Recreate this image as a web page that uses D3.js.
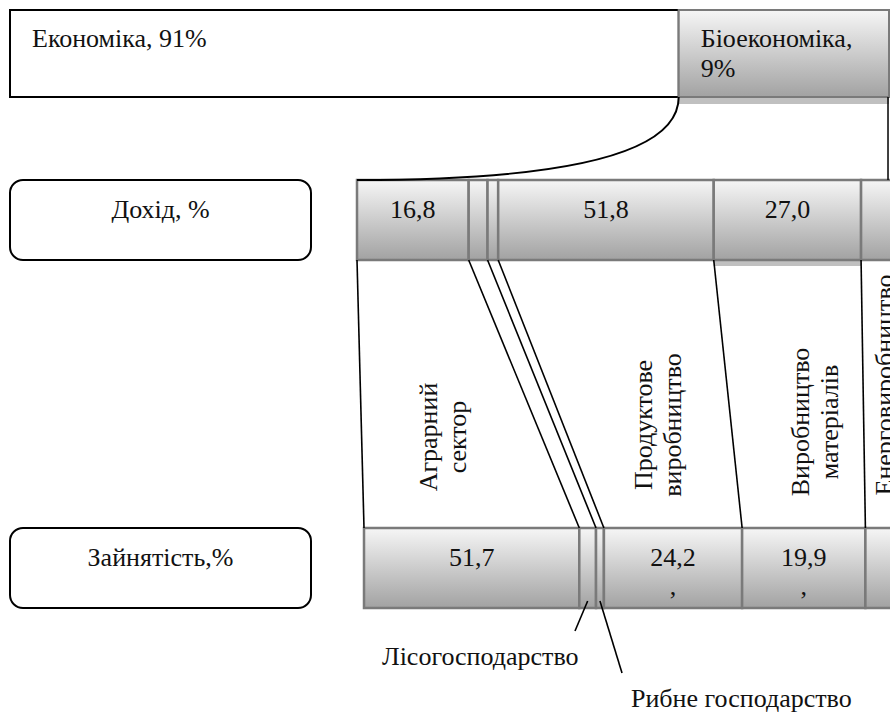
<!DOCTYPE html>
<html>
<head>
<meta charset="utf-8">
<script src="https://cdnjs.cloudflare.com/ajax/libs/d3/7.8.5/d3.min.js"></script>
<style>
body { margin: 0; background: #fff; }
svg { display: block; }
text { font-family: "Liberation Serif", "Times New Roman", serif; font-size: 26px; fill: #111; }
</style>
</head>
<body>
<svg id="canvas" width="890" height="713"></svg>
<script>
// share of the whole economy, %
var economyNames = ['Економіка', 'Біоекономіка'];
var economyShares = [91, 9];

// bioeconomy sectors, left to right
var sectors = ['Аграрний сектор', 'Лісогосподарство', 'Рибне господарство',
  'Продуктове виробництво', 'Виробництво матеріалів', 'Енерговиробництво'];
// income and employment, % (small ones are not labelled, read from widths)
var income = [16.8, 0.8, 0.3, 51.8, 27.0, 2.0];
var employment = [51.7, 0.65, 0.18, 24.2, 19.9, 2.0];
// stray second line in some employment cells
var employmentNotes = ['', '', '', ',', ',', ''];

var rowNames = ['Дохід, %', 'Зайнятість,%'];

// ---- layout ----
var svg = d3.select('#canvas');
var topBar = {x: 10, y: 10, h: 87};
var rows = [
  {name: rowNames[0], values: income, notes: null, x: 357, y: 180, h: 80},
  {name: rowNames[1], values: employment, notes: employmentNotes, x: 364, y: 528, h: 80}
];
var nameBox = {x: 10, w: 301, r: 13};
var lineGap = 29;

// hand drawn diagram: widths grow slower than the values
var shareScale = d3.scaleSqrt().domain([0, 100]).range([0, 701]);
var widthScale = d3.scalePow().exponent(0.584).domain([0, 100]).range([0, 316.5]);

var fmt = function (v) {
  return d3.format('.1f')(v).replace('.', ',');
};

var edgesOf = function (x0, values, scale) {
  var edges = [x0];
  values.forEach(function (v, i) { edges.push(edges[i] + scale(v)); });
  return edges;
};

var defs = svg.append('defs');
var grad = defs.append('linearGradient')
  .attr('id', 'shade').attr('x1', 0).attr('y1', 0).attr('x2', 0).attr('y2', 1);
grad.append('stop').attr('offset', '0%').attr('stop-color', '#f6f6f6');
grad.append('stop').attr('offset', '100%').attr('stop-color', '#a2a2a2');

// ---- top bar ----
var topEdges = edgesOf(topBar.x, economyShares, shareScale);
var bioX = topEdges[1], bioR = topEdges[2];

svg.append('rect')
  .attr('x', bioX).attr('y', topBar.y + topBar.h)
  .attr('width', bioR - bioX).attr('height', 7)
  .attr('fill', '#c0c0c0');

svg.append('rect')
  .attr('x', topEdges[0]).attr('y', topBar.y)
  .attr('width', topEdges[1] - topEdges[0]).attr('height', topBar.h)
  .attr('fill', '#fff').attr('stroke', '#000').attr('stroke-width', 2);

svg.append('rect')
  .attr('x', bioX).attr('y', topBar.y)
  .attr('width', bioR - bioX).attr('height', topBar.h)
  .attr('fill', 'url(#shade)').attr('stroke', '#7a7a7a').attr('stroke-width', 2);

svg.append('text')
  .attr('x', topEdges[0] + 22).attr('y', topBar.y + 37)
  .text(economyNames[0] + ', ' + economyShares[0] + '%');

svg.append('text')
  .attr('x', bioX + 22).attr('y', topBar.y + 37)
  .text(economyNames[1] + ',');
svg.append('text')
  .attr('x', bioX + 22).attr('y', topBar.y + 67)
  .text(economyShares[1] + '%');

// ---- rows ----
rows.forEach(function (row, r) {
  row.edges = edgesOf(row.x, row.values, widthScale);

  svg.append('rect')
    .attr('x', nameBox.x).attr('y', row.y)
    .attr('width', nameBox.w).attr('height', row.h)
    .attr('rx', nameBox.r).attr('ry', nameBox.r)
    .attr('fill', '#fff').attr('stroke', '#000').attr('stroke-width', 2);

  svg.append('text')
    .attr('x', nameBox.x + nameBox.w / 2).attr('y', row.y + 38)
    .attr('text-anchor', 'middle')
    .text(row.name);

  var g = svg.append('g');

  // little shadow under the materials cell of the income row
  if (r == 0) {
    g.append('rect')
      .attr('x', row.edges[4]).attr('y', row.y + row.h)
      .attr('width', row.edges[5] - row.edges[4]).attr('height', 6)
      .attr('fill', '#c0c0c0');
  }

  var cells = g.selectAll('g.cell')
    .data(row.values)
    .enter().append('g').attr('class', 'cell');

  cells.append('rect')
    .attr('x', function (d, i) { return row.edges[i]; })
    .attr('y', row.y)
    .attr('width', function (d, i) { return row.edges[i + 1] - row.edges[i]; })
    .attr('height', row.h)
    .attr('fill', 'url(#shade)')
    .attr('stroke', '#7a7a7a').attr('stroke-width', 2.5);

  cells.filter(function (d) { return d >= 10; })
    .append('text')
    .attr('x', function (d) { var i = row.values.indexOf(d); return (row.edges[i] + row.edges[i + 1]) / 2; })
    .attr('y', row.y + 38)
    .attr('text-anchor', 'middle')
    .text(fmt);

  if (row.notes) {
    cells.append('text')
      .attr('x', function (d, i) { return (row.edges[i] + row.edges[i + 1]) / 2; })
      .attr('y', row.y + 38 + lineGap)
      .attr('text-anchor', 'middle')
      .text(function (d, i) { return row.notes[i]; });
  }
});

// ---- connectors ----
var inc = rows[0], emp = rows[1];

// economy -> bioeconomy -> income row
var curve = d3.path();
curve.moveTo(bioX, topBar.y + topBar.h);
curve.bezierCurveTo(bioX, topBar.y + topBar.h + 68, (bioX + inc.x) / 2, inc.y, inc.x, inc.y);
svg.append('path').attr('d', curve.toString())
  .attr('fill', 'none').attr('stroke', '#000').attr('stroke-width', 2);

svg.append('line')
  .attr('x1', bioR - 1).attr('y1', topBar.y + topBar.h)
  .attr('x2', bioR - 1).attr('y2', inc.y)
  .attr('stroke', '#000').attr('stroke-width', 1.5);

// income row -> employment row
svg.selectAll('line.link')
  .data(inc.edges)
  .enter().append('line').attr('class', 'link')
  .attr('x1', function (d) { return d; })
  .attr('y1', inc.y + inc.h)
  .attr('x2', function (d, i) { return emp.edges[i]; })
  .attr('y2', emp.y)
  .attr('stroke', '#000').attr('stroke-width', 1.6);

// ---- sector names ----
var verticalLabels = [
  {i: 0, x: 437, y: 437},
  {i: 3, x: 652, y: 425},
  {i: 4, x: 809, y: 422},
  {i: 5, x: 893, y: 385}
];

verticalLabels.forEach(function (l) {
  var g = svg.append('g')
    .attr('transform', 'translate(' + l.x + ',' + l.y + ') rotate(-90)');
  sectors[l.i].split(' ').forEach(function (w, j) {
    g.append('text')
      .attr('x', 0).attr('y', j * lineGap)
      .attr('text-anchor', 'middle')
      .text(w);
  });
});

// forestry and fishery are too thin, point at them from below
var pointerLabels = [
  {i: 1, px: 575, py: 631, tx: 382, ty: 665},
  {i: 2, px: 622, py: 673, tx: 631, ty: 707}
];

pointerLabels.forEach(function (p) {
  var cx = (emp.edges[p.i] + emp.edges[p.i + 1]) / 2;
  svg.append('line')
    .attr('x1', cx).attr('y1', emp.y + emp.h - 7)
    .attr('x2', p.px).attr('y2', p.py)
    .attr('stroke', '#000').attr('stroke-width', 1.6);
  svg.append('text')
    .attr('x', p.tx).attr('y', p.ty)
    .text(sectors[p.i]);
});
</script>
</body>
</html>
